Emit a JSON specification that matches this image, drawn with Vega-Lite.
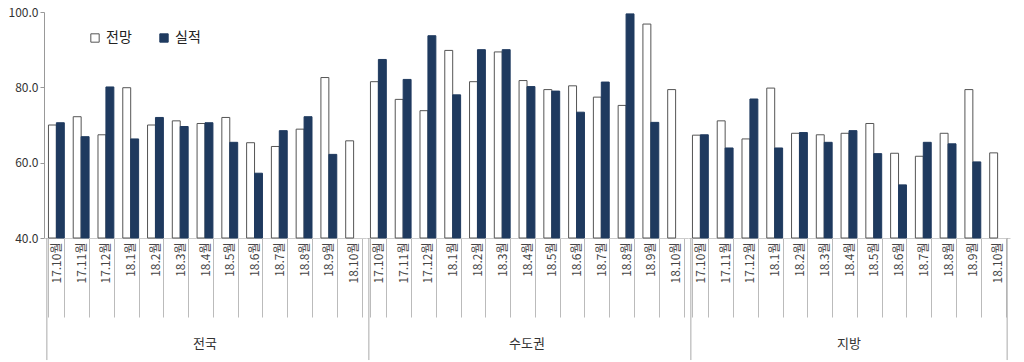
{
  "$schema": "https://vega.github.io/schema/vega-lite/v6.json",
  "padding": {"left": 8, "top": 6, "right": 5, "bottom": 0},
  "background": "white",
  "config": {"font": "Noto Sans CJK KR", "view": {"stroke": null}},
  "data": {"values": [
    {"region": "전국", "month": "17.10월", "전망": 70.0, "실적": 70.6},
    {"region": "전국", "month": "17.11월", "전망": 72.2, "실적": 66.9},
    {"region": "전국", "month": "17.12월", "전망": 67.4, "실적": 80.1},
    {"region": "전국", "month": "18.1월", "전망": 79.9, "실적": 66.3},
    {"region": "전국", "month": "18.2월", "전망": 70.0, "실적": 72.0},
    {"region": "전국", "month": "18.3월", "전망": 71.1, "실적": 69.6},
    {"region": "전국", "month": "18.4월", "전망": 70.4, "실적": 70.6},
    {"region": "전국", "month": "18.5월", "전망": 72.0, "실적": 65.4},
    {"region": "전국", "month": "18.6월", "전망": 65.3, "실적": 57.2},
    {"region": "전국", "month": "18.7월", "전망": 64.3, "실적": 68.5},
    {"region": "전국", "month": "18.8월", "전망": 68.9, "실적": 72.2},
    {"region": "전국", "month": "18.9월", "전망": 82.6, "실적": 62.2},
    {"region": "전국", "month": "18.10월", "전망": 65.8},
    {"region": "수도권", "month": "17.10월", "전망": 81.5, "실적": 87.4},
    {"region": "수도권", "month": "17.11월", "전망": 76.8, "실적": 82.1},
    {"region": "수도권", "month": "17.12월", "전망": 73.8, "실적": 93.7},
    {"region": "수도권", "month": "18.1월", "전망": 89.8, "실적": 78.0},
    {"region": "수도권", "month": "18.2월", "전망": 81.5, "실적": 90.0},
    {"region": "수도권", "month": "18.3월", "전망": 89.4, "실적": 90.0},
    {"region": "수도권", "month": "18.4월", "전망": 81.8, "실적": 80.2},
    {"region": "수도권", "month": "18.5월", "전망": 79.4, "실적": 79.0},
    {"region": "수도권", "month": "18.6월", "전망": 80.4, "실적": 73.4},
    {"region": "수도권", "month": "18.7월", "전망": 77.4, "실적": 81.4},
    {"region": "수도권", "month": "18.8월", "전망": 75.2, "실적": 99.5},
    {"region": "수도권", "month": "18.9월", "전망": 96.8, "실적": 70.7},
    {"region": "수도권", "month": "18.10월", "전망": 79.4},
    {"region": "지방", "month": "17.10월", "전망": 67.3, "실적": 67.4},
    {"region": "지방", "month": "17.11월", "전망": 71.1, "실적": 63.9},
    {"region": "지방", "month": "17.12월", "전망": 66.3, "실적": 76.9},
    {"region": "지방", "month": "18.1월", "전망": 79.8, "실적": 63.9},
    {"region": "지방", "month": "18.2월", "전망": 67.8, "실적": 68.0},
    {"region": "지방", "month": "18.3월", "전망": 67.4, "실적": 65.4},
    {"region": "지방", "month": "18.4월", "전망": 67.8, "실적": 68.5},
    {"region": "지방", "month": "18.5월", "전망": 70.4, "실적": 62.4},
    {"region": "지방", "month": "18.6월", "전망": 62.5, "실적": 54.1},
    {"region": "지방", "month": "18.7월", "전망": 61.7, "실적": 65.4},
    {"region": "지방", "month": "18.8월", "전망": 67.8, "실적": 65.0},
    {"region": "지방", "month": "18.9월", "전망": 79.4, "실적": 60.2},
    {"region": "지방", "month": "18.10월", "전망": 62.6}
  ]},
  "transform": [{"fold": ["전망", "실적"], "as": ["series", "value"]}],
  "facet": {"column": {"field": "region", "type": "nominal", "sort": ["전국", "수도권", "지방"], "title": null,
    "header": {"labelOrient": "bottom", "labelPadding": 20, "labelFontSize": 13, "labelFont": "Noto Sans CJK KR", "labelColor": "#333"}}},
  "spacing": 0,
  "bounds": "flush",
  "spec": {
    "width": 322,
    "height": 226,
    "layer": [
      {
        "mark": {"type": "bar", "strokeWidth": 1},
        "transform": [{"filter": "isValid(datum.value)"}],
        "encoding": {
          "x": {"field": "month", "type": "nominal",
            "sort": ["17.10월","17.11월","17.12월","18.1월","18.2월","18.3월","18.4월","18.5월","18.6월","18.7월","18.8월","18.9월","18.10월"],
            "scale": {"paddingInner": 0.36, "paddingOuter": 0.18},
            "axis": {"title": null, "labelAngle": -90, "labelFontSize": 12, "labelColor": "#444", "tickBand": "extent", "tickSize": 79, "tickColor": "#bbb", "domainColor": "#ccc", "labelPadding": -75}},
          "xOffset": {"field": "series", "type": "nominal", "sort": ["전망", "실적"]},
          "y": {"field": "value", "type": "quantitative", "scale": {"domain": [40, 100]},
            "axis": {"title": null, "values": [40, 60, 80, 100], "format": ".1f", "grid": false, "tickSize": 4, "labelFontSize": 12, "labelColor": "#333", "domainColor": "#999", "tickColor": "#999"}},
          "y2": {"datum": 40},
          "fill": {"field": "series", "type": "nominal", "scale": {"domain": ["전망", "실적"], "range": ["#ffffff", "#1f3a5f"]},
            "legend": {"orient": "none", "legendX": 44, "legendY": 19, "direction": "horizontal", "title": null, "symbolType": "square", "symbolSize": 70, "labelFontSize": 14, "labelColor": "#222", "columnPadding": 25, "symbolStrokeWidth": 1}},
          "stroke": {"field": "series", "type": "nominal", "scale": {"domain": ["전망", "실적"], "range": ["#555555", "#1f3a5f"]}}
        }
      },
      {
        "mark": {"type": "rule", "color": "#aaa"},
        "transform": [{"filter": "datum.month == '17.10월' && datum.series == '전망'"}],
        "encoding": {
          "x": {"field": "month", "type": "nominal", "bandPosition": -0.1,
            "sort": ["17.10월","17.11월","17.12월","18.1월","18.2월","18.3월","18.4월","18.5월","18.6월","18.7월","18.8월","18.9월","18.10월"]},
          "y": {"datum": 40},
          "y2": {"datum": 7.6}
        }
      },
      {
        "mark": {"type": "rule", "color": "#aaa"},
        "transform": [{"filter": "datum.month == '18.10월' && datum.series == '전망' && datum.region == '지방'"}],
        "encoding": {
          "x": {"field": "month", "type": "nominal", "bandPosition": 1.1,
            "sort": ["17.10월","17.11월","17.12월","18.1월","18.2월","18.3월","18.4월","18.5월","18.6월","18.7월","18.8월","18.9월","18.10월"]},
          "y": {"datum": 40},
          "y2": {"datum": 7.6}
        }
      }
    ]
  }
}
